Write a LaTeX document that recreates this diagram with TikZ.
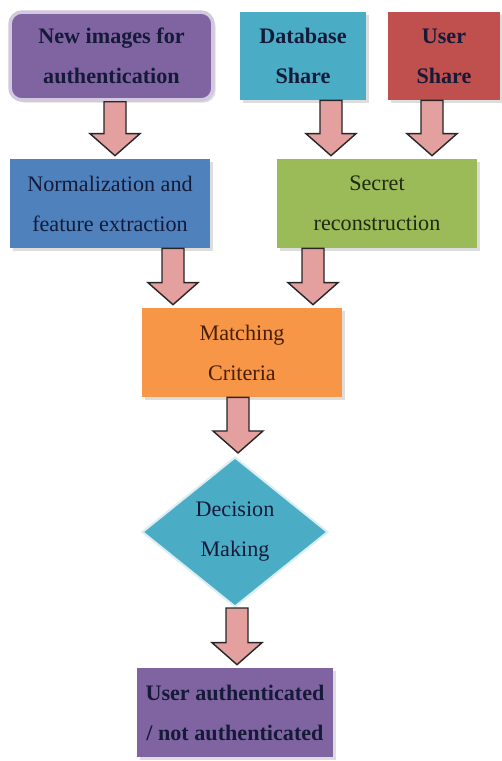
\documentclass[tikz,border=0pt]{standalone}
\usepackage{fontspec}
\setmainfont{Liberation Serif}
\usetikzlibrary{shapes.geometric,calc,shadows}
\definecolor{cpurple}{HTML}{8064A2}
\definecolor{caqua}{HTML}{4BACC6}
\definecolor{cred}{HTML}{C0504D}
\definecolor{cblue}{HTML}{4F81BD}
\definecolor{cgreen}{HTML}{9BBB59}
\definecolor{corange}{HTML}{F79646}
\definecolor{cpink}{HTML}{E4A09F}
\definecolor{tnavy}{HTML}{141A38}
\definecolor{tgreen}{HTML}{1E2A12}
\definecolor{tbrown}{HTML}{4A1E05}
\newcommand\blockarrow[3]{%
  \coordinate (bs) at (#1,0 |- #2.south);
  \coordinate (be) at ($(#1,0 |- #3.north)+(0,-3)$);
  \draw[barrow] ($(bs)+(-11,0)$) -- ($(bs)+(11,0)$) -- ($(be)+(11,-22)$) -- ($(be)+(25,-22)$)
    -- (be) -- ($(be)+(-25,-22)$) -- ($(be)+(-11,-22)$) -- cycle;}
\begin{document}
\begin{tikzpicture}[x=0.02cm,y=-0.02cm,
  box/.style={rectangle,inner sep=2pt,align=center,text=tnavy,
    font=\fontsize{12.6}{22.8}\selectfont,
    drop shadow={shadow xshift=1.5pt,shadow yshift=-1.5pt,fill=gray!45,opacity=0.6}},
  boldbox/.style={box,font=\fontsize{12.6}{22.8}\selectfont\bfseries},
  barrow/.style={fill=cpink,draw=black!85,line width=0.8pt,line join=miter}]
\useasboundingbox (0,0) rectangle (502,761);
\node[boldbox,fill=cpurple,draw=cpurple!35,line width=2pt,rounded corners=0.24cm,
  minimum width=4.06cm,minimum height=1.76cm] (newimg) at (111.5,56) {New images for\\authentication};
\node[boldbox,fill=caqua,minimum width=2.52cm,minimum height=1.76cm] (db) at (303,56) {Database\\Share};
\node[boldbox,fill=cred,minimum width=2.24cm,minimum height=1.76cm] (us) at (444,56) {User\\Share};
\node[box,fill=cblue,minimum width=4.0cm,minimum height=1.78cm] (norm) at (110,203.5) {Normalization and\\feature extraction};
\node[box,fill=cgreen,text=tgreen,minimum width=4.0cm,minimum height=1.78cm] (sec) at (377,203.5) {Secret\\reconstruction};
\node[box,fill=corange,text=tbrown,minimum width=4.0cm,minimum height=1.78cm] (match) at (242,352.5) {Matching\\Criteria};
\node[diamond,fill=caqua,draw=white!80!caqua,line width=1.2pt,inner sep=0pt,align=center,text=tnavy,
  font=\fontsize{12.6}{22.8}\selectfont,minimum width=3.72cm,minimum height=3.0cm] (dec) at (235,532) {Decision\\Making};
\node[boldbox,fill=cpurple,minimum width=3.92cm,minimum height=1.78cm] (fin) at (235,712.5) {User authenticated\\/ not authenticated};
\blockarrow{115}{newimg}{norm}
\blockarrow{331}{db}{sec}
\blockarrow{432}{us}{sec}
\blockarrow{173}{norm}{match}
\blockarrow{313}{sec}{match}
\blockarrow{238}{match}{dec}
\blockarrow{237}{dec}{fin}
\end{tikzpicture}
\end{document}
